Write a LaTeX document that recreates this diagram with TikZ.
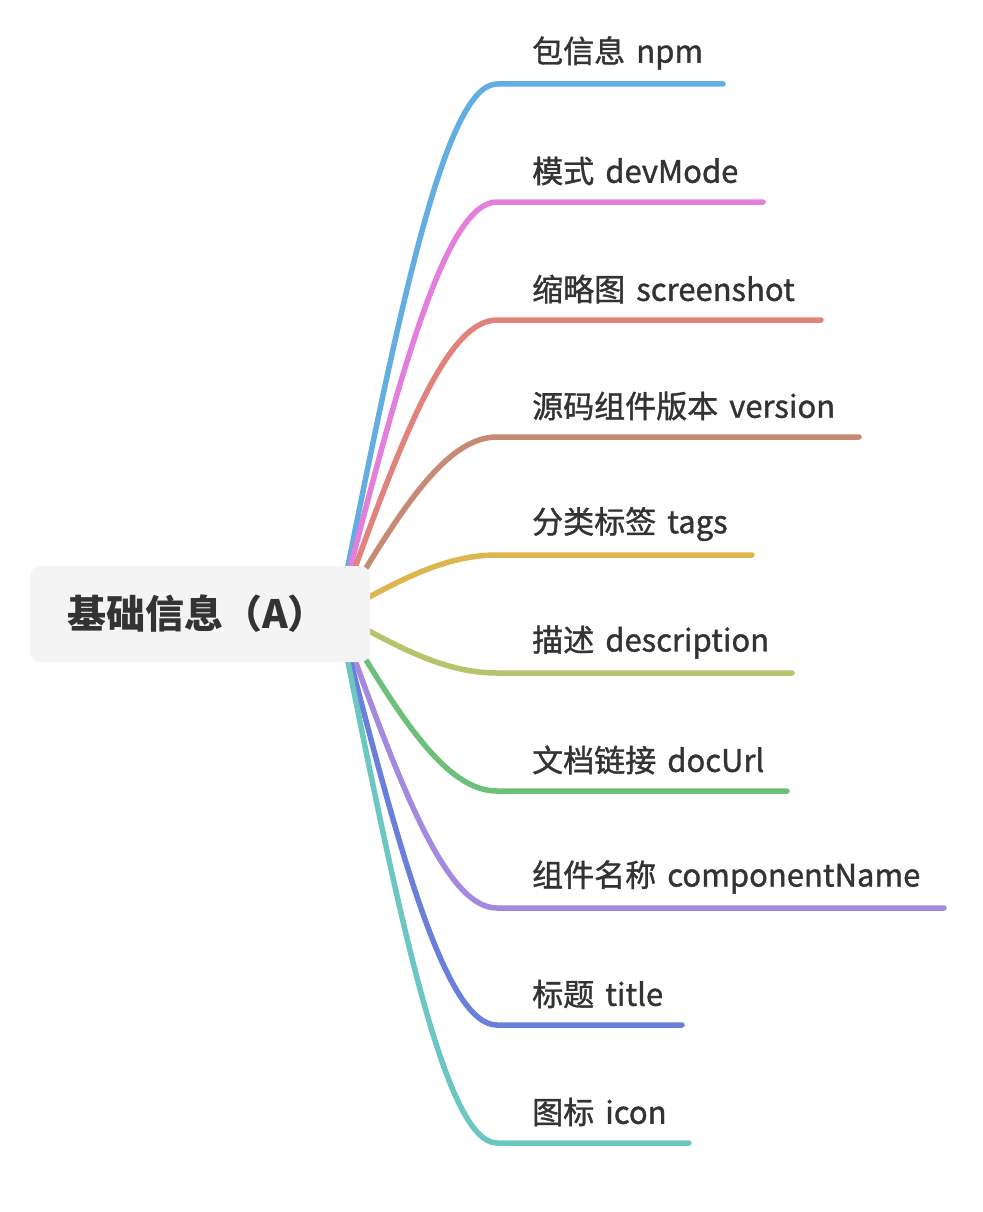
\documentclass[tikz,border=0pt]{standalone}
\usepackage{fontspec}
\setmainfont{Noto Sans CJK SC}
\newfontfamily\labfont[FakeBold=1.2,WordSpace=1.6]{Noto Sans CJK SC}
\usetikzlibrary{backgrounds,calc}
\definecolor{txt}{HTML}{333333}
\definecolor{rootfill}{HTML}{F4F4F4}
\definecolor{cA}{HTML}{62AEE3}
\definecolor{cB}{HTML}{E37FDB}
\definecolor{cC}{HTML}{E1827C}
\definecolor{cD}{HTML}{C68A75}
\definecolor{cE}{HTML}{DEB64F}
\definecolor{cF}{HTML}{B4C56E}
\definecolor{cG}{HTML}{6DC07A}
\definecolor{cH}{HTML}{A48ADF}
\definecolor{cI}{HTML}{6A7FDA}
\definecolor{cJ}{HTML}{6CC7C2}
\tikzset{
  rootbox/.style={fill=rootfill, rounded corners=10pt, minimum height=96pt,
    text width=266pt, inner xsep=37pt, inner ysep=0pt, align=left,
    font=\fontsize{39}{44}\selectfont\bfseries, text=txt, anchor=west},
  leaflabel/.style={anchor=west, inner sep=0pt, font=\labfont\fontsize{31}{36}\selectfont, text=txt},
  branch/.style={line width=5.5pt, line cap=round}
}
\begin{document}
\begin{tikzpicture}[x=1pt,y=-1pt]
\useasboundingbox (0,0) rectangle (982,1212);
\node[rootbox] (root) at (30,614) {基础信息（A）};
\coordinate (s) at ([xshift=-32pt]root.east);
\foreach \n/\y/\xe/\col/\lab in {
  1/84/723/cA/{包信息 npm},
  2/202/763/cB/{模式 devMode},
  3/320/821/cC/{缩略图 screenshot},
  4/437/859/cD/{源码组件版本 version},
  5/555/752/cE/{分类标签 tags},
  6/673/792/cF/{描述 description},
  7/791/787/cG/{文档链接 docUrl},
  8/908/944/cH/{组件名称 componentName},
  9/1025/682/cI/{标题 title},
  10/1143/689/cJ/{图标 icon}}{
  \node[leaflabel] (l\n) at (532,\y-31) {\lab};
  \coordinate (e\n) at (497,\y);
  \coordinate (f\n) at (\xe,\y);
  \pgfmathsetmacro{\dy}{0.57*(\y-614)}
  \begin{pgfonlayer}{background}
    \draw[branch, draw=\col] (s) .. controls +(60,\dy) and +(-52,0) .. (e\n) -- (f\n);
  \end{pgfonlayer}
}
\end{tikzpicture}
\end{document}
